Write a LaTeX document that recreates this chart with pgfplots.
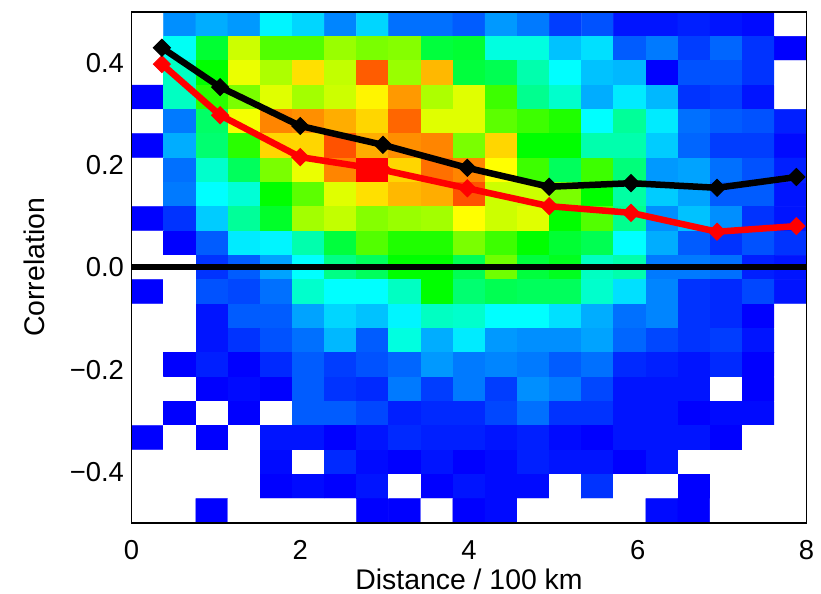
\documentclass[border=0pt]{standalone}
\usepackage{pgfplots}
\usepackage{fontspec}
\setmainfont{Liberation Sans}
\pgfplotsset{compat=1.18}
\begin{document}
\begin{tikzpicture}
\useasboundingbox (-131.5bp,-71bp) rectangle (689.5bp,523bp);
\begin{axis}[
  scale only axis, width=675bp, height=511bp,
  xmin=0, xmax=8, ymin=-0.5, ymax=0.5,
  axis on top, axis line style={line width=1.8bp, black},
  major tick length=0pt,
  xtick={0,2,4,6,8}, xticklabels={0,2,4,6,8},
  ytick={-0.4,-0.2,0,0.2,0.4}, yticklabels={−0.4,−0.2,0.0,0.2,0.4},
  tick label style={font=\fontsize{27.5}{30}\selectfont},
  label style={font=\fontsize{28.5}{30}\selectfont},
  xtick pos=bottom, ytick pos=left,
  xticklabel style={yshift=-14bp},
  yticklabel style={xshift=-4bp},
  xlabel={Distance / 100 km}, ylabel={Correlation},
  xlabel style={yshift=-2bp}, ylabel style={yshift=18bp},
  colormap={hm}{rgb255(0pt)=(255,255,255) rgb255(1pt)=(0,0,255) rgb255(26pt)=(0,255,255) rgb255(51pt)=(0,255,0) rgb255(76pt)=(255,255,0) rgb255(101pt)=(255,0,0)},
  point meta min=-1, point meta max=100,
]
\addplot[matrix plot*, mesh/cols=21, point meta=explicit] table[row sep=\\, meta=c,
  x expr={(mod(\coordindex,21)+0.5)*8/21},
  y expr={0.5-(floor((\coordindex+0.5)/21)+0.5)/21}] {
c\\
-1\\14\\17\\15\\24\\21\\13\\21\\11\\11\\9\\15\\12\\6\\8\\2\\2\\3\\2\\1\\-1\\
-1\\26\\45\\70\\58\\58\\65\\62\\63\\44\\45\\28\\28\\19\\22\\9\\12\\6\\10\\5\\0\\
-1\\31\\50\\73\\67\\78\\69\\91\\65\\82\\44\\42\\33\\25\\19\\18\\0\\8\\8\\5\\-1\\
0\\31\\54\\62\\72\\66\\70\\76\\85\\67\\72\\56\\36\\30\\17\\23\\18\\5\\6\\2\\-1\\
-1\\12\\40\\74\\87\\86\\83\\79\\90\\72\\72\\59\\56\\53\\25\\35\\23\\11\\9\\8\\3\\
0\\17\\39\\54\\79\\79\\92\\83\\86\\87\\62\\79\\50\\50\\33\\33\\20\\10\\6\\6\\1\\
-1\\11\\30\\41\\62\\73\\87\\100\\79\\89\\87\\75\\56\\41\\56\\38\\15\\16\\11\\8\\3\\
-1\\12\\25\\29\\50\\59\\72\\78\\82\\83\\92\\70\\70\\62\\50\\34\\20\\16\\9\\9\\2\\
0\\5\\20\\35\\46\\66\\69\\63\\65\\66\\75\\70\\72\\50\\58\\36\\14\\19\\14\\5\\2\\
-1\\0\\9\\23\\24\\33\\44\\58\\53\\53\\62\\56\\50\\45\\42\\25\\17\\9\\5\\8\\5\\
-1\\-1\\5\\9\\16\\25\\37\\41\\50\\50\\42\\61\\44\\47\\31\\33\\12\\12\\11\\3\\2\\
0\\-1\\8\\7\\11\\30\\25\\25\\31\\50\\39\\42\\41\\41\\30\\22\\13\\5\\4\\7\\2\\
-1\\-1\\2\\9\\9\\16\\21\\19\\24\\31\\30\\25\\25\\22\\17\\11\\13\\5\\4\\0\\-1\\
-1\\-1\\2\\5\\8\\11\\18\\9\\28\\17\\23\\15\\14\\14\\16\\10\\7\\5\\6\\2\\-1\\
-1\\0\\3\\0\\4\\9\\6\\8\\10\\15\\12\\13\\12\\9\\11\\4\\3\\2\\4\\0\\-1\\
-1\\-1\\0\\1\\0\\9\\5\\4\\12\\6\\12\\6\\14\\12\\7\\2\\2\\2\\-1\\0\\-1\\
-1\\0\\-1\\0\\-1\\9\\9\\7\\3\\4\\4\\7\\11\\5\\5\\2\\2\\0\\1\\1\\-1\\
0\\-1\\0\\-1\\2\\2\\0\\2\\4\\3\\3\\2\\3\\1\\0\\2\\2\\2\\0\\-1\\-1\\
-1\\-1\\-1\\-1\\1\\-1\\4\\1\\0\\2\\0\\1\\3\\2\\2\\0\\2\\-1\\-1\\-1\\-1\\
-1\\-1\\-1\\-1\\0\\1\\0\\2\\-1\\0\\2\\1\\1\\-1\\5\\-1\\-1\\0\\-1\\-1\\-1\\
-1\\-1\\0\\-1\\-1\\-1\\-1\\0\\0\\-1\\0\\1\\-1\\-1\\-1\\-1\\1\\0\\-1\\-1\\-1\\
};
\addplot[black, line width=5.5bp, forget plot] coordinates {(0,0.001) (8,0.001)};
\addplot[red, line width=6.5bp, mark=square*, mark size=6bp, mark options={solid,fill=red,rotate=45,line width=1bp}] coordinates {
(0.36,0.398) (1.05,0.298) (2.0,0.216) (2.98,0.191) (3.98,0.155) (4.95,0.12) (5.92,0.107) (6.94,0.07) (7.88,0.081)};
\addplot[black, line width=6.5bp, mark=square*, mark size=6bp, mark options={solid,fill=black,rotate=45,line width=1bp}] coordinates {
(0.36,0.43) (1.05,0.353) (2.0,0.277) (2.98,0.24) (3.98,0.195) (4.95,0.158) (5.92,0.165) (6.94,0.156) (7.88,0.177)};
\end{axis}
\end{tikzpicture}
\end{document}
